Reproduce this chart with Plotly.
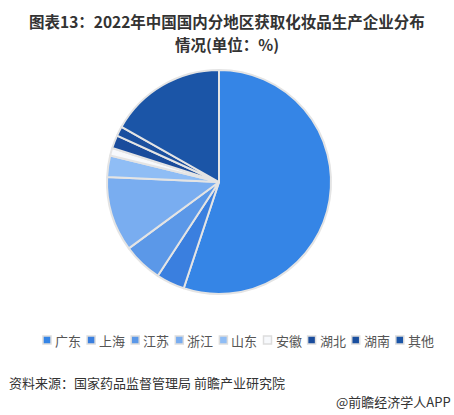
import plotly.graph_objects as go

categories = ["广东", "上海", "江苏", "浙江", "山东", "安徽", "湖北", "湖南", "其他"]
values = [55.1, 4.1, 5.7, 10.8, 3.1, 1.1, 1.9, 1.4, 16.8]
colors = ["#3585e6", "#3a7fdf", "#5b98e8", "#79adf0", "#8fbdf5", "#f7f9fc", "#1a4c9c", "#1a4f9f", "#1b55a7"]

W, H = 454, 415
FONT = "Noto Sans CJK SC"

fig = go.Figure()
cx, cy, r = 219, 182, 112
fig.add_trace(go.Pie(
    labels=categories, values=values, sort=False, direction="clockwise", rotation=0,
    marker=dict(colors=colors, line=dict(color="#e4e4e4", width=2)),
    textinfo="none", hoverinfo="label+percent", showlegend=False,
    domain=dict(x=[(cx - r) / W, (cx + r) / W], y=[(H - cy - r) / H, (H - cy + r) / H]),
))

shapes = []
annotations = []
# manual legend
x0, step, ly = 43, 44.1, 340
for i, (c, col) in enumerate(zip(categories, colors)):
    sx = x0 + i * step
    shapes.append(dict(type="rect", xref="paper", yref="paper",
                       x0=(sx) / W, x1=(sx + 8) / W, y0=1 - (ly + 4) / H, y1=1 - (ly - 4) / H,
                       fillcolor=col, line=dict(color="#dddddd", width=1.5)))
    annotations.append(dict(text=c, x=(sx + 10) / W, y=1 - ly / H, xref="paper", yref="paper",
                            xanchor="left", yanchor="middle", showarrow=False,
                            font=dict(family=FONT, size=13, color="#555555")))

annotations.append(dict(text="<b>图表13：2022年中国国内分地区获取化妆品生产企业分布</b>", x=0.5, y=1 - 21 / H,
                        xref="paper", yref="paper", xanchor="center", yanchor="middle", showarrow=False,
                        font=dict(family=FONT, size=15.5, color="#333333")))
annotations.append(dict(text="<b>情况(单位：%)</b>", x=0.5, y=1 - 44 / H,
                        xref="paper", yref="paper", xanchor="center", yanchor="middle", showarrow=False,
                        font=dict(family=FONT, size=15.5, color="#333333")))
annotations.append(dict(text="资料来源：国家药品监督管理局 前瞻产业研究院", x=7 / W, y=1 - 382 / H,
                        xref="paper", yref="paper", xanchor="left", yanchor="middle", showarrow=False,
                        font=dict(family=FONT, size=13, color="#333333")))
annotations.append(dict(text="@前瞻经济学人APP", x=453 / W, y=1 - 401 / H,
                        xref="paper", yref="paper", xanchor="right", yanchor="middle", showarrow=False,
                        font=dict(family=FONT, size=13, color="#333333")))

fig.update_layout(width=W, height=H, margin=dict(l=0, r=0, t=0, b=0),
                  paper_bgcolor="white", plot_bgcolor="white",
                  shapes=shapes, annotations=annotations, showlegend=False,
                  font=dict(family=FONT))
fig.write_html("out.html")
